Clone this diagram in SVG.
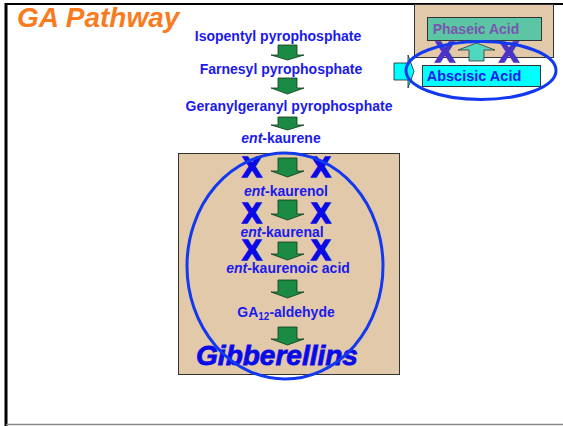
<svg xmlns="http://www.w3.org/2000/svg" width="563" height="426" viewBox="0 0 563 426">
<defs>
<style>
.t{font-family:"Liberation Sans",Arial,sans-serif;font-weight:bold;font-size:14px;fill:#1a1aee;text-anchor:middle}
.x{font-family:"Liberation Sans",Arial,sans-serif;font-weight:bold;font-size:29px;fill:#0a0ae8;stroke:#0a0ae8;stroke-width:1.6;text-anchor:middle}
.ga{fill:#1b8a45;stroke:#0c3a1c;stroke-width:0.8}
</style>
</defs>
<rect width="563" height="426" fill="#fff"/>
<g id="frame">
<line x1="6" y1="4" x2="563" y2="4" stroke="#000" stroke-width="2"/>
<line x1="6" y1="3" x2="6" y2="426" stroke="#000" stroke-width="3"/>
<line x1="6" y1="424.5" x2="563" y2="424.5" stroke="#888" stroke-width="1.5"/>
</g>
<text id="title" x="17" y="27" font-family="'Liberation Sans',Arial,sans-serif" font-weight="bold" font-style="italic" font-size="28" fill="#fa7b1e">GA Pathway</text>

<g id="box-gib">
<rect x="178.5" y="153.5" width="221" height="221" fill="#e2c9a9" stroke="#333" stroke-width="1"/>
</g>

<g id="xmarks">
<text class="x" x="252" y="177">X</text>
<text class="x" x="321" y="177">X</text>
<text class="x" x="252" y="223">X</text>
<text class="x" x="321" y="223">X</text>
<text class="x" x="252" y="260">X</text>
<text class="x" x="321" y="260">X</text>
</g>

<g id="labels">
<text class="t" x="278" y="41">Isopentyl pyrophosphate</text>
<text class="t" x="281" y="74">Farnesyl pyrophosphate</text>
<text class="t" x="289" y="111">Geranylgeranyl pyrophosphate</text>
<text class="t" x="281" y="143"><tspan font-style="italic">ent</tspan>-kaurene</text>
<text class="t" x="286" y="196"><tspan font-style="italic">ent</tspan>-kaurenol</text>
<text class="t" x="282" y="237"><tspan font-style="italic">ent</tspan>-kaurenal</text>
<text class="t" x="288" y="273"><tspan font-style="italic">ent</tspan>-kaurenoic acid</text>
<text class="t" x="286" y="317">GA<tspan font-size="10" dy="3">12</tspan><tspan dy="-3">-aldehyde</tspan></text>
<text id="gib" x="277" y="365" font-family="'Liberation Sans',Arial,sans-serif" font-weight="bold" font-style="italic" font-size="28" fill="#0a0ae8" stroke="#0a0ae8" stroke-width="0.8" text-anchor="middle">Gibberellins</text>
</g>

<g id="connectors">
<path class="ga" d="M278,45 H297 V55 H304 L287.5,60 L271,55 H278 Z"/>
<path class="ga" d="M278,78 H297 V88 H304 L287.5,94 L271,88 H278 Z"/>
<path class="ga" d="M278,117 H297 V125 H304 L287.5,130 L271,125 H278 Z"/>
<path class="ga" d="M278,158 H297 V171 H304 L287.5,177 L271,171 H278 Z"/>
<path class="ga" d="M278,200 H297 V214 H304 L287.5,220 L271,214 H278 Z"/>
<path class="ga" d="M278,242 H297 V254 H304 L287.5,260 L271,254 H278 Z"/>
<path class="ga" d="M278,280 H297 V292 H304 L287.5,298 L271,292 H278 Z"/>
<path class="ga" d="M278,327 H297 V339 H304 L287.5,345 L271,339 H278 Z"/>
</g>

<ellipse id="ell-gib" cx="285" cy="266" rx="98" ry="113" fill="none" stroke="#1239f0" stroke-width="3"/>

<g id="aba">
<rect x="414.5" y="4.5" width="139" height="53" fill="#e2c9a9" stroke="#333" stroke-width="1"/>
<text class="x" x="445" y="62" style="fill:#4a33c8;stroke:#4a33c8">X</text>
<text class="x" x="509" y="62" style="fill:#4a33c8;stroke:#4a33c8">X</text>
<rect x="427.5" y="17.5" width="114" height="23" fill="#5cc5a3" stroke="#333" stroke-width="1"/>
<text x="476" y="34" font-family="'Liberation Sans',Arial,sans-serif" font-weight="bold" font-size="14" fill="#7a55b0" text-anchor="middle">Phaseic Acid</text>
<path d="M469,61 V50 H458 L476.5,43 L495,50 H484 V61 Z" fill="#4fd8c0" stroke="#333" stroke-width="0.8"/>
<rect x="422.5" y="65.5" width="118" height="21" fill="#00ffff" stroke="#333" stroke-width="1"/>
<text x="474" y="81" font-family="'Liberation Sans',Arial,sans-serif" font-weight="bold" font-size="14.5" fill="#1a1aee" text-anchor="middle">Abscisic Acid</text>
<path d="M394,63 H408 V55 L414,71.5 L408,88 V80 H394 Z" fill="#00ffff" stroke="#222" stroke-width="0.8"/>
<ellipse cx="481" cy="70.5" rx="75" ry="29" fill="none" stroke="#1239f0" stroke-width="3"/>
</g>
</svg>
